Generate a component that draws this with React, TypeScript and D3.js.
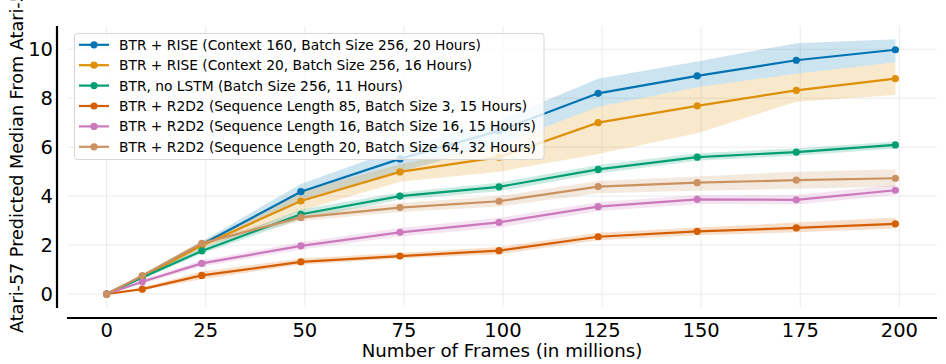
import React from 'react';
import * as d3 from 'd3';

// frames (millions) at which each run was evaluated
const frames = [0, 9, 24, 49, 74, 99, 124, 149, 174, 199];

const labels = [
  'BTR + RISE (Context 160, Batch Size 256, 20 Hours)',
  'BTR + RISE (Context 20, Batch Size 256, 16 Hours)',
  'BTR, no LSTM (Batch Size 256, 11 Hours)',
  'BTR + R2D2 (Sequence Length 85, Batch Size 3, 15 Hours)',
  'BTR + R2D2 (Sequence Length 16, Batch Size 16, 15 Hours)',
  'BTR + R2D2 (Sequence Length 20, Batch Size 64, 32 Hours)',
];

const colors = ['#0173b2', '#de8f05', '#029e73', '#d55e00', '#cc78bc', '#ca9161'];

const riseCtx160 = [0, 0.72, 2.02, 4.18, 5.52, 6.67, 8.2, 8.91, 9.55, 9.98];
const riseCtx160Lo = [0, 0.65, 1.9, 3.85, 5.0, 6.1, 7.65, 8.45, 9.0, 9.47];
const riseCtx160Hi = [0, 0.8, 2.15, 4.5, 5.95, 7.1, 8.8, 9.5, 10.25, 10.41];

const riseCtx20 = [0, 0.72, 1.98, 3.8, 4.99, 5.59, 7.0, 7.69, 8.32, 8.8];
const riseCtx20Lo = [0, 0.65, 1.85, 3.4, 4.59, 5.0, 5.72, 6.57, 7.86, 8.13];
const riseCtx20Hi = [0, 0.8, 2.1, 4.2, 5.3, 6.1, 7.65, 8.45, 9.0, 9.47];

const noLstm = [0, 0.68, 1.76, 3.26, 4.0, 4.38, 5.09, 5.59, 5.8, 6.09];
const noLstmLo = [0, 0.6, 1.65, 3.05, 3.85, 4.2, 4.92, 5.45, 5.65, 5.95];
const noLstmHi = [0, 0.76, 1.88, 3.45, 4.15, 4.55, 5.27, 5.75, 5.95, 6.23];

const r2d2Seq85 = [0, 0.2, 0.76, 1.31, 1.55, 1.77, 2.34, 2.56, 2.7, 2.87];
const r2d2Seq85Lo = [0, 0.15, 0.6, 1.2, 1.45, 1.62, 2.2, 2.4, 2.52, 2.68];
const r2d2Seq85Hi = [0, 0.27, 0.92, 1.45, 1.68, 1.92, 2.5, 2.72, 2.92, 3.12];

const r2d2Seq16 = [0, 0.5, 1.25, 1.97, 2.52, 2.93, 3.57, 3.87, 3.85, 4.24];
const r2d2Seq16Lo = [0, 0.42, 1.12, 1.82, 2.35, 2.72, 3.38, 3.68, 3.66, 4.05];
const r2d2Seq16Hi = [0, 0.58, 1.38, 2.12, 2.7, 3.12, 3.75, 4.05, 4.05, 4.45];

const r2d2Seq20 = [0, 0.75, 2.07, 3.13, 3.53, 3.79, 4.39, 4.55, 4.65, 4.73];
const r2d2Seq20Lo = [0, 0.68, 1.95, 2.98, 3.35, 3.58, 4.12, 4.22, 4.3, 4.38];
const r2d2Seq20Hi = [0, 0.82, 2.18, 3.3, 3.72, 4.0, 4.62, 4.8, 5.0, 5.1];

const xTicks = [0, 25, 50, 75, 100, 125, 150, 175, 200];
const yTicks = [0, 2, 4, 6, 8, 10];

const series = [
  {mean: riseCtx160, lo: riseCtx160Lo, hi: riseCtx160Hi},
  {mean: riseCtx20, lo: riseCtx20Lo, hi: riseCtx20Hi},
  {mean: noLstm, lo: noLstmLo, hi: noLstmHi},
  {mean: r2d2Seq85, lo: r2d2Seq85Lo, hi: r2d2Seq85Hi},
  {mean: r2d2Seq16, lo: r2d2Seq16Lo, hi: r2d2Seq16Hi},
  {mean: r2d2Seq20, lo: r2d2Seq20Lo, hi: r2d2Seq20Hi},
];

const width = 946;
const height = 364;
const font = 'DejaVu Sans, sans-serif';

export default function App() {
  const plot = {left: 67, right: 937, top: 26, bottom: 307};
  const x = d3.scaleLinear().domain([-10, 209.5]).range([plot.left, plot.right]);
  const y = d3.scaleLinear().domain([-0.53, 10.95]).range([plot.bottom, plot.top]);

  const line = d3.line<number>().x((d, i) => x(frames[i])).y(d => y(d));
  const band = (lo: number[], hi: number[]) =>
    d3.area<number>().x((d, i) => x(frames[i])).y0((d, i) => y(lo[i])).y1((d, i) => y(hi[i]))(lo) || '';

  const legend = {x: 74.5, y: 33.5, w: 469.5, h: 126, row: 20.4};

  return (
    <svg width={width} height={height} style={{position: 'absolute', left: 0, top: 0, background: '#fff'}}
      fontFamily={font}>
      {/* grid */}
      {xTicks.map(t => (
        <line key={'gx' + t} x1={x(t)} x2={x(t)} y1={plot.top} y2={plot.bottom} stroke="#ebebeb" strokeWidth={1} />
      ))}
      {yTicks.map(t => (
        <line key={'gy' + t} x1={plot.left} x2={plot.right} y1={y(t)} y2={y(t)} stroke="#ebebeb" strokeWidth={1} />
      ))}

      {/* bands, then lines + markers */}
      {series.map((s, k) => (
        <path key={'b' + k} d={band(s.lo, s.hi)} fill={colors[k]} fillOpacity={0.2} stroke="none" />
      ))}
      {series.map((s, k) => (
        <g key={'s' + k}>
          <path d={line(s.mean) || ''} fill="none" stroke={colors[k]} strokeWidth={2.2} />
          {s.mean.map((v, i) => (
            <circle key={i} cx={x(frames[i])} cy={y(v)} r={3.6} fill={colors[k]} />
          ))}
        </g>
      ))}

      {/* offset spines */}
      <line x1={57} x2={57} y1={plot.top} y2={plot.bottom + 1} stroke="#000" strokeWidth={2.2} />
      <line x1={plot.left} x2={plot.right} y1={318} y2={318} stroke="#000" strokeWidth={2.2} />

      {yTicks.map(t => (
        <text key={'ty' + t} x={53} y={y(t)} dy="0.36em" textAnchor="end" fontSize={19.5} fill="#000">{t}</text>
      ))}
      {xTicks.map(t => (
        <text key={'tx' + t} x={x(t)} y={337} textAnchor="middle" fontSize={19.5} fill="#000">{t}</text>
      ))}

      <text x={(plot.left + plot.right) / 2} y={357} textAnchor="middle" fontSize={18.2} fill="#000">
        Number of Frames (in millions)
      </text>
      <text transform={`translate(23, 333) rotate(-90)`} textAnchor="start" fontSize={17.6} fill="#000">
        Atari-57 Predicted Median From Atari-5
      </text>

      {/* legend */}
      <rect x={legend.x} y={legend.y} width={legend.w} height={legend.h} rx={3} fill="#fff" fillOpacity={0.8}
        stroke="#d6d6d6" strokeWidth={1} />
      {labels.map((lab, k) => {
        const cy = 44.8 + k * legend.row;
        return (
          <g key={'l' + k}>
            <line x1={79} x2={109} y1={cy} y2={cy} stroke={colors[k]} strokeWidth={2.2} />
            <circle cx={94} cy={cy} r={3.6} fill={colors[k]} />
            <text x={119} y={cy} dy="0.36em" fontSize={13.8} fill="#000">{lab}</text>
          </g>
        );
      })}
    </svg>
  );
}
